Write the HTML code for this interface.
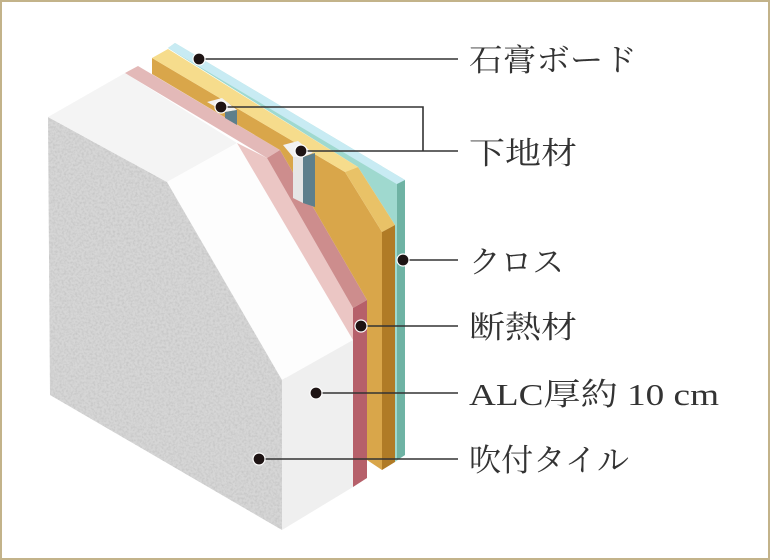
<!DOCTYPE html>
<html><head><meta charset="utf-8"><style>
html,body{margin:0;padding:0;background:#fff}
svg{display:block}
text{font-family:"Liberation Serif","Noto Serif CJK SC","Noto Sans CJK JP",serif;font-size:31px;fill:#333}
</style></head><body>
<svg width="770" height="560" viewBox="0 0 770 560" xmlns="http://www.w3.org/2000/svg">
<defs>
<filter id="n" x="0" y="0" width="100%" height="100%">
<feTurbulence type="fractalNoise" baseFrequency="0.45" numOctaves="2" seed="3"/>
<feColorMatrix type="matrix" values="0 0 0 0 0.5  0 0 0 0 0.5  0 0 0 0 0.5  0 0 0 -1.6 1.0"/>
<feComposite in2="SourceGraphic" operator="in"/>
</filter>
</defs>
<rect x="1" y="1" width="768" height="558" fill="#fff" stroke="#c3b38a" stroke-width="2"/>
<polygon points="48,117 167,182 282,380 282,530 50,395" fill="#d6d6d6"/>
<polygon points="48,117 167,182 282,380 282,530 50,395" fill="#d6d6d6" filter="url(#n)" opacity="0.8"/>
<polygon points="167,182 172,180 286,378 282,380" fill="#c8c8c8"/>
<polygon points="48,117 125,73 237,143 167,182" fill="#f4f4f4"/>
<polygon points="167,182 237,143 353,340 282,380" fill="#fdfdfd"/>
<polygon points="282,380 353,340 353,487 282,530" fill="#efefef"/>
<polygon points="125,73 138,66 280,150 267,158" fill="#e3b9b8"/>
<polygon points="237,143 267,158 353,308 353,340" fill="#ebc6c4"/>
<polygon points="267,158 280,150 367,300 353,308" fill="#cd8d8d"/>
<polygon points="353,308 367,300 367,478 353,487" fill="#b6606a"/>
<polygon points="168,48 175,43 405,180 405,455 395,462 395,225 358,167" fill="#9fd9cf"/>
<polygon points="168,48 175,43 405,180 400,186" fill="#c8ebf3"/>
<polygon points="397,184 405,180 405,455 397,460" fill="#6fb3a4"/>
<polygon points="152,58 345,172 382,232 382,470 367,460 367,300 280,150 152,74" fill="#d9a64a"/>
<polygon points="152,58 168,49 358,167 345,172" fill="#f6dc8c"/>
<polygon points="345,172 358,167 395,225 382,232" fill="#e9c267"/>
<polygon points="382,232 395,225 395,462 382,470" fill="#b07b26"/>
<polygon points="207,102 222,98 237,110 225,112" fill="#f2f2f2"/>
<polygon points="225,112 237,110 237,125 225,118" fill="#5e7f8c"/>
<polygon points="283,145 298,141 313,153 303,157 293,157" fill="#f2f2f2"/>
<polygon points="293,157 303,157 303,203 293,198" fill="#e6e6e6"/>
<polygon points="303,157 315,153 315,207 303,203" fill="#5e7f8c"/>
<g stroke="#333" stroke-width="1.6" fill="none">
<line x1="199" y1="59" x2="458" y2="59"/>
<polyline points="221,107 423,107 423,151"/>
<line x1="301" y1="151" x2="458" y2="151"/>
<line x1="403" y1="260" x2="458" y2="260"/>
<line x1="361" y1="326" x2="458" y2="326"/>
<line x1="316" y1="393" x2="458" y2="393"/>
<line x1="259" y1="459" x2="458" y2="459"/>
</g>
<g fill="#1e1414" stroke="#fff" stroke-width="1.2">
<circle cx="199" cy="59" r="6"/>
<circle cx="221" cy="107" r="6"/>
<circle cx="301" cy="151" r="6"/>
<circle cx="403" cy="260" r="6"/>
<circle cx="361" cy="326" r="6"/>
<circle cx="316" cy="393" r="6"/>
<circle cx="259" cy="459" r="6"/>
</g>
<text x="469" y="71" textLength="168" lengthAdjust="spacingAndGlyphs">石膏ボード</text>
<text x="469" y="164" textLength="108" lengthAdjust="spacingAndGlyphs">下地材</text>
<text x="469" y="273" textLength="95" lengthAdjust="spacingAndGlyphs">クロス</text>
<text x="469" y="338" textLength="108" lengthAdjust="spacingAndGlyphs">断熱材</text>
<text x="469" y="405" textLength="250" lengthAdjust="spacingAndGlyphs">ALC厚約 10 cm</text>
<text x="469" y="471" textLength="160" lengthAdjust="spacingAndGlyphs">吹付タイル</text>
</svg>
</body></html>
